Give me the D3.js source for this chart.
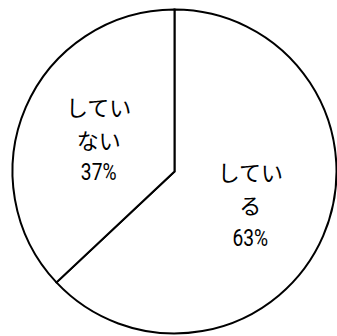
<!DOCTYPE html>
<html>
<head>
<meta charset="utf-8">
<script src="https://cdn.jsdelivr.net/npm/d3@7"></script>
<style>
  html, body { margin: 0; padding: 0; background: #fff; }
  svg { display: block; }
</style>
</head>
<body>
<svg id="chart" width="337" height="336"></svg>
<script>
// Answer categories and their shares (%)
const categories = ["している", "していない"];
const values = [63, 37];

const width = 337, height = 336;
const cx = 174.5, cy = 171.5, radius = 162;

const svg = d3.select("#chart");
const g = svg.append("g").attr("transform", `translate(${cx},${cy})`);

const data = categories.map((c, i) => ({ label: c, value: values[i] }));

const pie = d3.pie().sort(null).value(d => d.value);
const arcs = pie(data);

const arc = d3.arc().innerRadius(0).outerRadius(radius);
const labelArc = d3.arc().innerRadius(radius * 0.51).outerRadius(radius * 0.51);

g.selectAll("path.slice")
  .data(arcs)
  .join("path")
  .attr("class", "slice")
  .attr("d", arc)
  .attr("fill", "#fff")
  .attr("stroke", "#000")
  .attr("stroke-width", 2)
  .attr("stroke-linejoin", "miter");

// Labels: category wrapped three characters per line, then the percentage
const lineH = 33;
const labels = g.selectAll("g.label")
  .data(arcs)
  .join("g")
  .attr("class", "label")
  .attr("transform", d => {
    const [x, y] = labelArc.centroid(d);
    return `translate(${x},${y})`;
  });

labels.each(function(d) {
  const chars = Array.from(d.data.label);
  const lines = [];
  for (let i = 0; i < chars.length; i += 3) lines.push(chars.slice(i, i + 3).join(""));
  lines.push(d.data.value + "%");
  const n = lines.length;
  const sel = d3.select(this);
  lines.forEach((t, i) => {
    const isPct = i === n - 1;
    sel.append("text")
      .attr("x", 0)
      .attr("y", (i - (n - 1) / 2) * lineH)
      .attr("text-anchor", "middle")
      .attr("dominant-baseline", "central")
      .attr("font-family", isPct ? "'Roboto', 'Noto Sans CJK JP', sans-serif" : "'Noto Sans CJK JP', sans-serif")
      .attr("font-size", isPct ? 24 : 22)
      .attr("fill", "#000")
      .attr("transform", isPct ? "scale(0.8,1)" : null)
      .text(t);
  });
});
</script>
</body>
</html>
